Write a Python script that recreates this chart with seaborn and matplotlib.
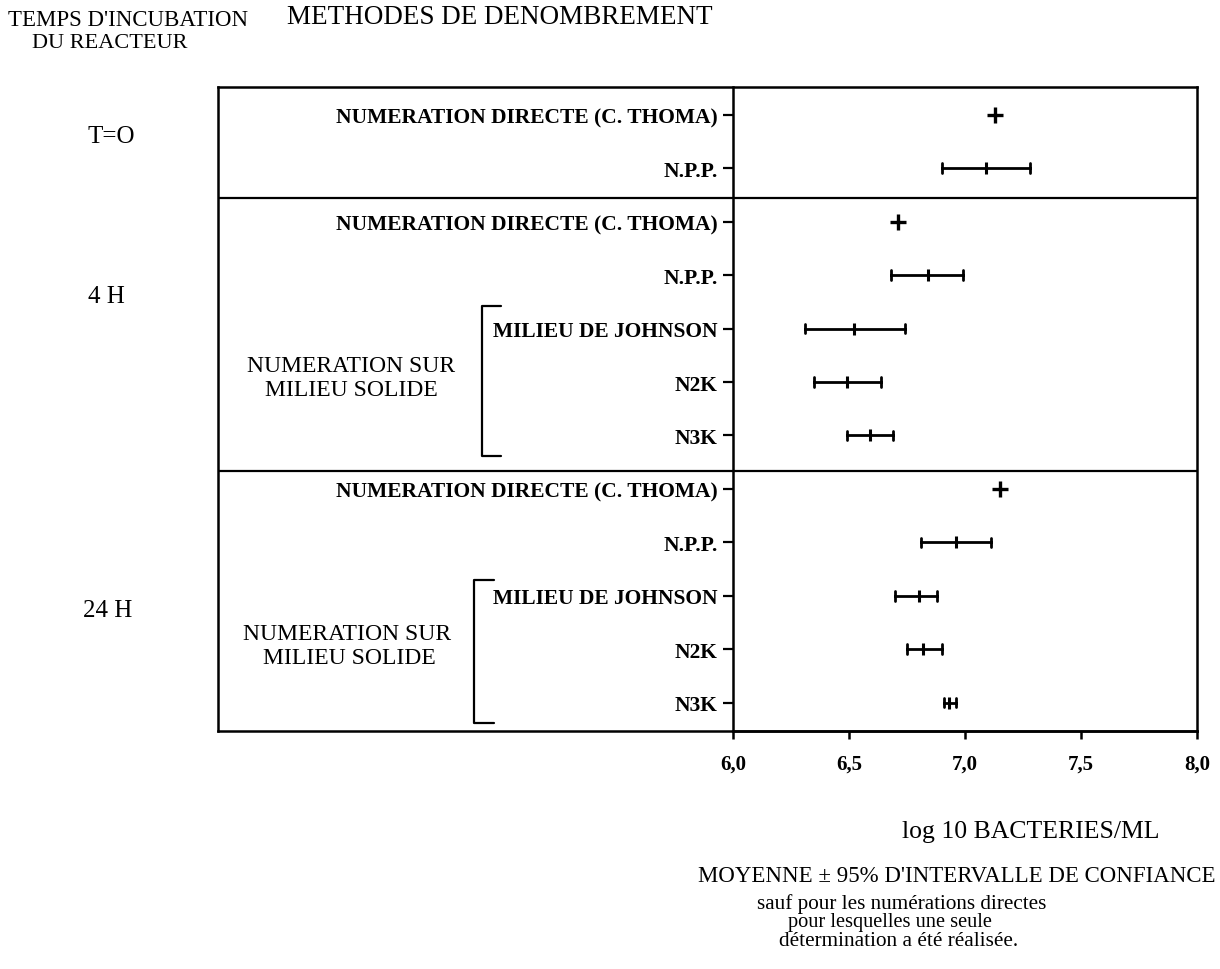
import numpy as np
import pandas as pd
import matplotlib
matplotlib.use("Agg")
import matplotlib.pyplot as plt
from matplotlib.lines import Line2D
import seaborn as sns

# ---------------- data ----------------
row_ids = ["T0_thoma", "T0_npp",
           "4H_thoma", "4H_npp", "4H_johnson", "4H_n2k", "4H_n3k",
           "24H_thoma", "24H_npp", "24H_johnson", "24H_n2k", "24H_n3k"]
row_labels = ["NUMERATION DIRECTE (C. THOMA)", "N.P.P.",
              "NUMERATION DIRECTE (C. THOMA)", "N.P.P.", "MILIEU DE JOHNSON", "N2K", "N3K",
              "NUMERATION DIRECTE (C. THOMA)", "N.P.P.", "MILIEU DE JOHNSON", "N2K", "N3K"]
group_labels = ["T=O", "4 H", "24 H"]

# direct counts: single determination
thoma_rows = ["T0_thoma", "4H_thoma", "24H_thoma"]
thoma_values = [7.13, 6.71, 7.15]

# mean +/- 95% confidence interval
ci_rows = ["T0_npp", "4H_npp", "4H_johnson", "4H_n2k", "4H_n3k",
           "24H_npp", "24H_johnson", "24H_n2k", "24H_n3k"]
ci_low = [6.90, 6.68, 6.31, 6.35, 6.49, 6.81, 6.70, 6.75, 6.91]
ci_mean = [7.09, 6.84, 6.52, 6.49, 6.59, 6.96, 6.80, 6.82, 6.93]
ci_high = [7.28, 6.99, 6.74, 6.64, 6.69, 7.11, 6.88, 6.90, 6.96]

x_ticks = [6.0, 6.5, 7.0, 7.5, 8.0]
x_tick_labels = ["6,0", "6,5", "7,0", "7,5", "8,0"]

# ---------------- tables ----------------
df_ci = pd.DataFrame({
    "row": np.repeat(ci_rows, 3),
    "value": np.column_stack([ci_low, ci_mean, ci_high]).ravel(),
})
df_thoma = pd.DataFrame({"row": thoma_rows, "value": thoma_values})

# ---------------- figure ----------------
sns.set_theme(style="white")
plt.rcParams["font.family"] = ["Liberation Serif", "DejaVu Serif"]

W, H = 1220, 970
fig = plt.figure(figsize=(W / 100, H / 100), dpi=100)
fig.patch.set_facecolor("white")

def fx(px):
    return px / W

def fy(py):
    return 1 - py / H

left_px, mid_px, right_px, top_px, bot_px = 218, 733, 1197, 88, 732
ax_bg = fig.add_axes([fx(left_px), fy(bot_px), fx(right_px - left_px), (bot_px - top_px) / H])
ax = fig.add_axes([fx(mid_px), fy(bot_px), fx(right_px - mid_px), (bot_px - top_px) / H],
                  sharey=ax_bg)
ax.patch.set_alpha(0)

# CI rows
sns.pointplot(data=df_ci, x="value", y="row", order=row_ids, orient="h",
              estimator="median", errorbar=lambda v: (v.min(), v.max()),
              capsize=0.18, color="black", linestyle="none", marker="|",
              markersize=9, markeredgewidth=2.2,
              err_kws={"linewidth": 2.0}, ax=ax)
# direct counts
sns.pointplot(data=df_thoma, x="value", y="row", order=row_ids, orient="h",
              estimator="median", errorbar=None, color="black",
              linestyle="none", marker="+", markersize=11, markeredgewidth=2.4,
              ax=ax)

ax.set_xlim(6.0, 8.0)
ax.set_ylim(11.53, -0.52)
ax.set_xticks(x_ticks)
ax.set_xticklabels(x_tick_labels, fontsize=15, fontweight="bold")
ax.set_yticks(range(len(row_ids)))
ax.set_yticklabels(row_labels, fontsize=15.5, fontweight="bold")
ax.set_xlabel("")
ax.set_ylabel("")
ax.tick_params(axis="y", left=True, direction="out", length=7, width=1.6, pad=4, colors="black")
ax.tick_params(axis="x", bottom=True, direction="out", length=6, width=1.8, pad=10, colors="black")
for s in ["top", "right"]:
    ax.spines[s].set_visible(False)
ax.spines["left"].set_linewidth(1.8)
ax.spines["left"].set_color("black")
ax.spines["bottom"].set_linewidth(1.8)
ax.spines["bottom"].set_color("black")

ax_bg.tick_params(left=False, labelleft=False, bottom=False, labelbottom=False)
for s in ax_bg.spines.values():
    s.set_linewidth(1.8)
    s.set_color("black")
ax_bg.set_xlim(0, 1)
for yd in [1.55, 6.67]:
    ax_bg.axhline(yd, color="black", linewidth=1.6)

# ---------------- texts ----------------
def txt(x, y, s, **kw):
    fig.text(fx(x), fy(y), s, color="black", **kw)

txt(8, 20, "TEMPS D'INCUBATION", fontsize=16.5, va="center", ha="left")
txt(32, 43, "DU REACTEUR", fontsize=16, va="center", ha="left")
txt(287, 18, "METHODES DE DENOMBREMENT", fontsize=19.5, va="center", ha="left")

txt(88, 137, "T=O", fontsize=18, va="center", ha="left")
txt(88, 297, "4 H", fontsize=18, va="center", ha="left")
txt(83, 611, "24 H", fontsize=18, va="center", ha="left")

for (x1, y1, x2, y2) in [(247, 367, 265, 391), (243, 635, 263, 659)]:
    txt(x1, y1, "NUMERATION SUR", fontsize=17, va="center", ha="left")
    txt(x2, y2, "MILIEU SOLIDE", fontsize=17, va="center", ha="left")

# brackets
for (bx, y0, y1, arm) in [(482, 307, 457, 19), (474, 581, 724, 20)]:
    fig.add_artist(Line2D([fx(bx + arm), fx(bx), fx(bx), fx(bx + arm)],
                          [fy(y0), fy(y0), fy(y1), fy(y1)],
                          color="black", linewidth=1.6))

txt(1160, 832, "log 10 BACTERIES/ML", fontsize=18.5, va="center", ha="right")
txt(1215, 877, "MOYENNE \u00b1 95% D'INTERVALLE DE CONFIANCE", fontsize=16.5, va="center", ha="right")
txt(757, 904, "sauf pour les num\u00e9rations directes", fontsize=15.2, va="center", ha="left")
txt(788, 923, "pour lesquelles une seule", fontsize=14.7, va="center", ha="left")
txt(779, 942, "d\u00e9termination a \u00e9t\u00e9 r\u00e9alis\u00e9e.", fontsize=15.3, va="center", ha="left")

fig.savefig("out.png", dpi=100, facecolor="white")
